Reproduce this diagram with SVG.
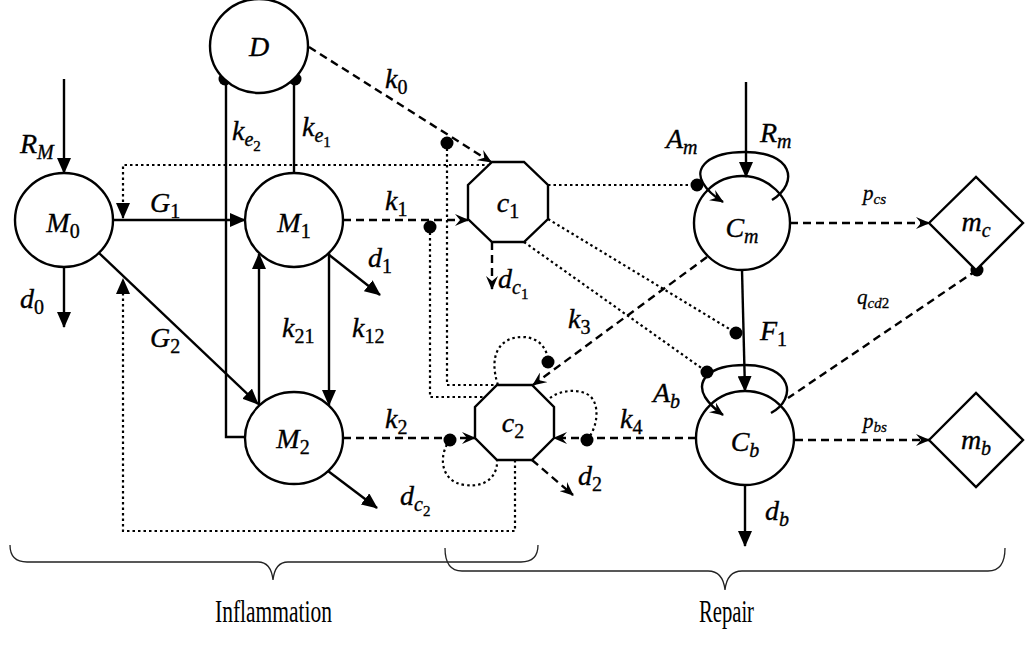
<svg xmlns="http://www.w3.org/2000/svg" width="1025" height="650" viewBox="0 0 1025 650">
<style>
.n{fill:#fff;stroke:#000;stroke-width:2.4}
.l{fill:none;stroke:#000;stroke-width:2.4}
.da{fill:none;stroke:#000;stroke-width:2.4;stroke-dasharray:8 5}
.dt{fill:none;stroke:#000;stroke-width:2.2;stroke-dasharray:2.5 3}
.br{fill:none;stroke:#222;stroke-width:1.3}
.m{font-family:"Liberation Serif",serif;font-style:italic;font-size:28px;fill:#000;stroke:#000;stroke-width:0.35}
.sm{font-family:"Liberation Serif",serif;font-style:italic;font-size:21px;fill:#000;stroke:#000;stroke-width:0.3}
.s{font-size:20px}
.ss{font-size:15px}
.s2{font-size:15px}
.u{font-style:normal}
.t{font-family:"Liberation Serif",serif;font-size:31px;fill:#000}
</style>
<defs>
<marker id="tri" viewBox="0 0 16 14" refX="15" refY="7" markerWidth="16" markerHeight="14" markerUnits="userSpaceOnUse" orient="auto">
<path d="M0,0 L16,7 L0,14 z" fill="#000"/>
</marker>
<marker id="st" viewBox="0 0 14 12" refX="13" refY="6" markerWidth="14" markerHeight="12" markerUnits="userSpaceOnUse" orient="auto">
<path d="M0,0 L14,6 L0,12 L5,6 z" fill="#000"/>
</marker>
</defs>

<g id="connectors">
<line class="l" x1="64" y1="79" x2="64" y2="173" marker-end="url(#tri)"/>
<line class="l" x1="113" y1="220" x2="245" y2="220" marker-end="url(#tri)"/>
<line class="l" x1="99" y1="253" x2="258" y2="404" marker-end="url(#tri)"/>
<line class="l" x1="64" y1="267" x2="64" y2="327" marker-end="url(#tri)"/>
<path class="l" d="M226,79 V437 H245"/>
<path class="l" d="M294,79 V173"/>
<line class="l" x1="259" y1="405" x2="259" y2="254" marker-end="url(#tri)"/>
<line class="l" x1="329" y1="253" x2="329" y2="405" marker-end="url(#tri)"/>
<line class="l" x1="328" y1="254" x2="380" y2="295" marker-end="url(#tri)"/>
<line class="l" x1="328" y1="471" x2="377" y2="508" marker-end="url(#tri)"/>
<line class="l" x1="742" y1="270" x2="745" y2="391" marker-end="url(#tri)"/>
<line class="l" x1="746" y1="82" x2="746" y2="177" marker-end="url(#tri)"/>
<line class="l" x1="745" y1="485" x2="745" y2="546" marker-end="url(#tri)"/>
<path class="l" d="M772,200 C800,182 792,152 745,152 C708,152 694,168 703,183 C708,192 715,197 723,202" marker-end="url(#st)"/>
<path class="l" d="M771,413 C798,398 792,365 745,365 C708,365 696,381 705,397 C710,405 716,410 723,415" marker-end="url(#st)"/>
<line class="da" x1="309" y1="47" x2="491" y2="162" marker-end="url(#st)"/>
<line class="da" x1="343" y1="220" x2="468" y2="220" marker-end="url(#st)"/>
<line class="da" x1="343" y1="438" x2="475" y2="438" marker-end="url(#st)"/>
<line class="da" x1="696" y1="438" x2="554" y2="438" marker-end="url(#st)"/>
<line class="da" x1="707" y1="257" x2="533" y2="385" marker-end="url(#st)"/>
<line class="da" x1="790" y1="223" x2="929" y2="223" marker-end="url(#st)"/>
<line class="da" x1="795" y1="440" x2="929" y2="440" marker-end="url(#st)"/>
<line class="da" x1="977" y1="270" x2="788" y2="398"/>
<line class="da" x1="492" y1="242" x2="492" y2="289" marker-end="url(#st)"/>
<line class="da" x1="532" y1="460" x2="573" y2="495" marker-end="url(#st)"/>
<path class="dt" d="M490,165 H123 V218" marker-end="url(#tri)"/>
<path class="dt" d="M515,460 V531 H123 V279" marker-end="url(#tri)"/>
<path class="dt" d="M447,143 V385 H497"/>
<path class="dt" d="M430,227 V397 H487"/>
<path class="dt" d="M548,185 H697"/>
<path class="dt" d="M548,219 L736,333"/>
<path class="dt" d="M524,242 L707,372"/>
<path class="dt" d="M498,385 C488,355 500,337 522,337 C540,337 548,350 548,362"/>
<path class="dt" d="M550,398 C560,390 580,388 590,396 C600,405 598,427 587,440"/>
<path class="dt" d="M450,440 C438,455 440,482 465,485 C487,488 498,475 497,460"/>
<g fill="#000">
<circle cx="225" cy="79" r="6.5"/>
<circle cx="295" cy="79" r="6.5"/>
<circle cx="447" cy="143" r="6.5"/>
<circle cx="430" cy="227" r="6.5"/>
<circle cx="697" cy="185" r="6.5"/>
<circle cx="736" cy="333" r="6.5"/>
<circle cx="707" cy="372" r="6.5"/>
<circle cx="548" cy="362" r="6.5"/>
<circle cx="587" cy="440" r="6.5"/>
<circle cx="450" cy="440" r="6.5"/>
<circle cx="977" cy="270" r="6.5"/>
</g>
</g>

<g id="D"><ellipse class="n" cx="259" cy="46" rx="49" ry="47"/><text class="m" x="259" y="56" text-anchor="middle">D</text></g>
<g id="M0"><ellipse class="n" cx="64" cy="220" rx="49" ry="47"/><text class="m" x="63" y="232" text-anchor="middle">M<tspan class="s u" dy="6">0</tspan></text></g>
<g id="M1"><ellipse class="n" cx="294" cy="220" rx="49" ry="47"/><text class="m" x="294" y="232" text-anchor="middle">M<tspan class="s u" dy="6">1</tspan></text></g>
<g id="M2"><ellipse class="n" cx="294" cy="438" rx="49" ry="46"/><text class="m" x="293" y="448" text-anchor="middle">M<tspan class="s u" dy="6">2</tspan></text></g>
<g id="c1"><polygon class="n" points="492,162 524,162 548,185 548,219 524,242 492,242 468,219 468,185"/><text class="m" x="508" y="212" text-anchor="middle">c<tspan class="s u" dy="6">1</tspan></text></g>
<g id="c2"><polygon class="n" points="497,385 532,385 554,407 554,438 532,460 497,460 475,438 475,407"/><text class="m" x="513" y="432" text-anchor="middle">c<tspan class="s u" dy="6">2</tspan></text></g>
<g id="Cm"><ellipse class="n" cx="742" cy="223" rx="48" ry="47" fill-opacity="0"/><text class="m" x="742" y="237" text-anchor="middle">C<tspan class="s" dy="6">m</tspan></text></g>
<g id="Cb"><ellipse class="n" cx="745" cy="438" rx="49" ry="47" fill-opacity="0"/><text class="m" x="745" y="451" text-anchor="middle">C<tspan class="s" dy="6">b</tspan></text></g>
<g id="mc"><polygon class="n" points="929,223 976,177 1023,223 976,270"/><text class="m" x="976" y="231" text-anchor="middle">m<tspan class="s" dy="6">c</tspan></text></g>
<g id="mb"><polygon class="n" points="929,440 976,393 1023,440 976,487"/><text class="m" x="976" y="449" text-anchor="middle">m<tspan class="s" dy="6">b</tspan></text></g>

<g id="labels">
<text class="m" x="20" y="153">R<tspan class="s" dy="6">M</tspan></text>
<text class="m" x="150" y="212">G<tspan class="s u" dy="6">1</tspan></text>
<text class="m" x="232" y="140">k<tspan class="s" dy="6">e</tspan><tspan class="ss u" dy="5">2</tspan></text>
<text class="m" x="302" y="136">k<tspan class="s" dy="6">e</tspan><tspan class="ss u" dy="5">1</tspan></text>
<text class="m" x="20" y="308">d<tspan class="s u" dy="6">0</tspan></text>
<text class="m" x="150" y="347">G<tspan class="s u" dy="6">2</tspan></text>
<text class="m" x="282" y="337">k<tspan class="s u" dy="6">21</tspan></text>
<text class="m" x="352" y="337">k<tspan class="s u" dy="6">12</tspan></text>
<text class="m" x="368" y="267">d<tspan class="s u" dy="6">1</tspan></text>
<text class="m" x="385" y="210">k<tspan class="s u" dy="6">1</tspan></text>
<text class="m" x="385" y="88">k<tspan class="s u" dy="6">0</tspan></text>
<text class="m" x="498" y="288">d<tspan class="s" dy="6">c</tspan><tspan class="ss u" dy="5">1</tspan></text>
<text class="m" x="568" y="328">k<tspan class="s u" dy="6">3</tspan></text>
<text class="m" x="385" y="428">k<tspan class="s u" dy="6">2</tspan></text>
<text class="m" x="620" y="428">k<tspan class="s u" dy="6">4</tspan></text>
<text class="m" x="578" y="485">d<tspan class="s u" dy="6">2</tspan></text>
<text class="m" x="400" y="505">d<tspan class="s" dy="6">c</tspan><tspan class="ss u" dy="5">2</tspan></text>
<text class="m" x="666" y="148">A<tspan class="s" dy="6">m</tspan></text>
<text class="m" x="760" y="142">R<tspan class="s" dy="6">m</tspan></text>
<text class="sm" x="863" y="200">p<tspan class="s2" dy="4">cs</tspan></text>
<text class="m" x="760" y="340">F<tspan class="s u" dy="6">1</tspan></text>
<text class="sm" x="857" y="304">q<tspan class="s2" dy="4">cd<tspan class="u">2</tspan></tspan></text>
<text class="sm" x="863" y="428">p<tspan class="s2" dy="4">bs</tspan></text>
<text class="m" x="653" y="402">A<tspan class="s" dy="6">b</tspan></text>
<text class="m" x="765" y="520">d<tspan class="s" dy="6">b</tspan></text>
</g>

<g id="braces">
<path class="br" d="M10,545 Q10,562 27,562 L258,562 Q271,562 273,580 Q275,562 288,562 L521,562 Q538,562 538,545"/>
<path class="br" d="M445,548 Q445,571 462,571 L708,571 Q723,571 725,590 Q727,571 742,571 L988,571 Q1005,571 1005,548"/>
<text class="t" x="215" y="622" textLength="117" lengthAdjust="spacingAndGlyphs">Inflammation</text>
<text class="t" x="699" y="622" textLength="55" lengthAdjust="spacingAndGlyphs">Repair</text>
</g>
</svg>
